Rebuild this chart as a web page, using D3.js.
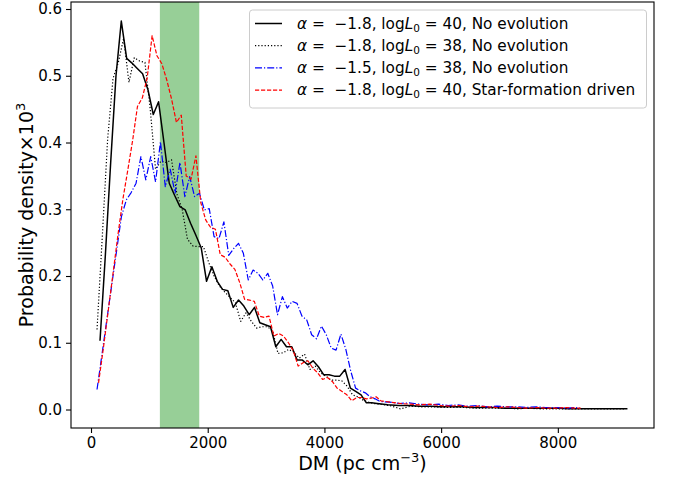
<!DOCTYPE html>
<html>
<head>
<meta charset="utf-8">
<script src="https://cdn.jsdelivr.net/npm/d3@7"></script>
<style>
  html, body { margin: 0; padding: 0; background: #fff; }
  svg { display: block; }
  text { font-family: "DejaVu Sans", sans-serif; white-space: pre; }
</style>
</head>
<body>
<svg id="chart" width="673" height="478"></svg>
<script>
// ---------------- data ----------------
const dmSolid = [154, 245, 337, 428, 519, 611, 702, 793, 884, 976, 1067, 1158, 1250, 1341, 1432, 1524, 1615, 1706, 1797, 1889,
  1980, 2071, 2163, 2254, 2345, 2437, 2528, 2619, 2710, 2802, 2893, 2984, 3076, 3167, 3258, 3350, 3441, 3532, 3623, 3715,
  3806, 3897, 3989, 4080, 4171, 4263, 4354, 4445, 4536, 4628, 4719, 4810, 4902,
  5084, 5267, 5449, 5632, 5815, 5997, 6180, 6362, 6545, 6728, 6910, 7093, 7275, 7458, 7641, 7823, 8006, 8188, 8371, 8554,
  8736, 8919, 9101, 9193];
const pdSolid = [0.103, 0.230, 0.370, 0.500, 0.582, 0.526, 0.519, 0.511, 0.503, 0.479,
  0.442, 0.461, 0.400, 0.339, 0.321, 0.304, 0.299, 0.279, 0.261, 0.242,
  0.192, 0.214, 0.192, 0.180, 0.178, 0.153, 0.164, 0.155, 0.142, 0.153,
  0.130, 0.127, 0.124, 0.094, 0.105, 0.094, 0.094, 0.074, 0.074, 0.067,
  0.073, 0.064, 0.052, 0.052, 0.050, 0.050, 0.060, 0.032, 0.027, 0.022,
  0.010, 0.010, 0.009,
  0.007, 0.006, 0.006, 0.005, 0.005, 0.004, 0.004, 0.004, 0.003, 0.003, 0.003, 0.002,
  0.002, 0.002, 0.002, 0.002, 0.002, 0.001, 0.001, 0.001, 0.001, 0.001, 0.001, 0.001];

const dmDotted = [103, 194, 285, 377, 468, 559, 650, 741, 833, 924, 1015, 1106, 1197, 1289, 1380, 1471, 1562, 1653, 1745, 1836,
  1927, 2018, 2109, 2201, 2292, 2383, 2474, 2565, 2657, 2748, 2839, 2930, 3021, 3113, 3204, 3295, 3386, 3477, 3569, 3660,
  3751, 3842, 3933, 4025, 4116, 4207, 4298, 4389, 4481, 4572, 4663, 4754, 4845,
  4937, 5119, 5302, 5484, 5666, 5849, 6031, 6214, 6396, 6578, 6761, 6943, 7126, 7308, 7490, 7673, 7855, 8038, 8220, 8402,
  8585, 8767, 8950, 9132];
const pdDotted = [0.120, 0.260, 0.405, 0.496, 0.520, 0.556, 0.490, 0.527, 0.522, 0.520,
  0.450, 0.360, 0.372, 0.370, 0.374, 0.323, 0.300, 0.255, 0.245, 0.244,
  0.244, 0.220, 0.200, 0.185, 0.176, 0.168, 0.160, 0.132, 0.145, 0.132,
  0.122, 0.124, 0.124, 0.118, 0.084, 0.085, 0.090, 0.086, 0.077, 0.083,
  0.060, 0.065, 0.055, 0.050, 0.044, 0.044, 0.043, 0.035, 0.022, 0.019,
  0.014, 0.011, 0.009,
  0.008, 0.006, 0.001, 0.005, 0.004, 0.004, 0.003, 0.003, 0.003, 0.002, 0.002, 0.002,
  0.002, 0.001, 0.002, 0.001, 0.001, 0.001, 0.001, 0.001, 0.001, 0.001, 0.001, 0.001];

const dmBlue = [103, 187, 270, 354, 437, 521, 605, 688, 772, 855, 939, 1023, 1106, 1190, 1273, 1357, 1441, 1524, 1608, 1691,
  1775, 1859, 1942, 2026, 2109, 2193, 2277, 2360, 2444, 2527, 2611, 2695, 2778, 2862, 2945, 3029, 3113, 3196, 3280, 3363,
  3447, 3531, 3614, 3698, 3781, 3865, 3949, 4032, 4116, 4199, 4283, 4367, 4450, 4534, 4617, 4701, 4785, 4868, 4952,
  5119, 5286, 5453, 5621, 5788, 5955, 6122, 6289, 6456, 6624, 6791, 6958, 7125, 7292, 7459, 7626, 7794, 7961, 8128, 8295, 8379];
const pdBlue = [0.030, 0.082, 0.134, 0.186, 0.237, 0.289, 0.314, 0.325, 0.339, 0.379,
  0.344, 0.379, 0.341, 0.401, 0.334, 0.360, 0.324, 0.370, 0.319, 0.349,
  0.319, 0.324, 0.299, 0.301, 0.259, 0.256, 0.281, 0.231, 0.241, 0.249,
  0.234, 0.194, 0.209, 0.204, 0.194, 0.204, 0.185, 0.142, 0.169, 0.152,
  0.162, 0.159, 0.140, 0.134, 0.112, 0.106, 0.125, 0.112, 0.092, 0.089,
  0.113, 0.090, 0.058, 0.032, 0.028, 0.025, 0.019, 0.016, 0.012,
  0.011, 0.009, 0.010, 0.008, 0.007, 0.008, 0.006, 0.007, 0.005, 0.006, 0.004,
  0.005, 0.004, 0.004, 0.003, 0.004, 0.003, 0.003, 0.002, 0.003, 0.002];

const dmRed = [129, 212, 295, 379, 462, 546, 629, 713, 796, 880, 963, 1047, 1130, 1214, 1297, 1381, 1464, 1547, 1631, 1714,
  1798, 1881, 1965, 2048, 2132, 2215, 2299, 2382, 2465, 2549, 2632, 2716, 2799, 2883, 2966, 3050, 3133, 3217, 3300, 3383,
  3467, 3550, 3634, 3717, 3801, 3884, 3968, 4051, 4135, 4218, 4302, 4385, 4468, 4552, 4635, 4719, 4802, 4886, 4969,
  5136, 5303, 5470, 5637, 5804, 5971, 6138, 6305, 6472, 6639, 6806, 6973, 7140, 7306, 7473, 7640, 7807, 7974, 8141, 8308, 8391];
const pdRed = [0.040, 0.092, 0.148, 0.205, 0.262, 0.315, 0.358, 0.403, 0.454, 0.467,
  0.497, 0.560, 0.530, 0.518, 0.494, 0.465, 0.430, 0.441, 0.350, 0.345,
  0.380, 0.310, 0.284, 0.273, 0.270, 0.232, 0.228, 0.218, 0.210, 0.190,
  0.165, 0.164, 0.162, 0.140, 0.138, 0.140, 0.110, 0.114, 0.110, 0.100,
  0.088, 0.065, 0.070, 0.073, 0.062, 0.055, 0.045, 0.048, 0.042, 0.032,
  0.027, 0.022, 0.013, 0.018, 0.018, 0.016, 0.017, 0.019, 0.013,
  0.011, 0.009, 0.008, 0.007, 0.008, 0.006, 0.005, 0.006, 0.004, 0.005, 0.004,
  0.003, 0.004, 0.003, 0.002, 0.003, 0.002, 0.002, 0.003, 0.002, 0.002];

const bandRange = [1180, 1855];
const xTicks = [0, 2000, 4000, 6000, 8000];
const yTicks = [0.0, 0.1, 0.2, 0.3, 0.4, 0.5, 0.6];
const alphas = ["−1.8", "−1.8", "−1.5", "−1.8"];
const logL0s = ["40", "38", "38", "40"];
const models = ["No evolution", "No evolution", "No evolution", "Star-formation driven"];

// ---------------- layout ----------------
const svg = d3.select("#chart");
const L = 71, R = 654, T = 2, B = 428;
const x = d3.scaleLinear().domain([-343, 9648]).range([L, R]);
const y = d3.scaleLinear().domain([-0.0277, 0.6105]).range([B, T]);

svg.append("defs").append("clipPath").attr("id", "clip")
  .append("rect").attr("x", L).attr("y", T).attr("width", R - L).attr("height", B - T);

// band
svg.append("rect")
  .attr("x", x(bandRange[0])).attr("y", T)
  .attr("width", x(bandRange[1]) - x(bandRange[0])).attr("height", B - T)
  .attr("fill", "#97cf97");

const series = [
  { dm: dmSolid, pd: pdSolid, color: "#000000", dash: null, w: 1.5 },
  { dm: dmDotted, pd: pdDotted, color: "#000000", dash: "1.2,2", w: 1.2 },
  { dm: dmBlue, pd: pdBlue, color: "#0000ff", dash: "7,2,1.2,2", w: 1.2 },
  { dm: dmRed, pd: pdRed, color: "#ff0000", dash: "4.2,1.8", w: 1.2 }
];

const line = d3.line().x(d => x(d[0])).y(d => y(d[1]));
const g = svg.append("g").attr("clip-path", "url(#clip)");
series.forEach(s => {
  g.append("path")
    .datum(s.dm.map((v, i) => [v, s.pd[i]]))
    .attr("d", line)
    .attr("fill", "none")
    .attr("stroke", s.color)
    .attr("stroke-width", s.w)
    .attr("stroke-dasharray", s.dash)
    .attr("stroke-linejoin", "round");
});

// frame
svg.append("rect").attr("x", L).attr("y", T).attr("width", R - L).attr("height", B - T)
  .attr("fill", "none").attr("stroke", "#000").attr("stroke-width", 1.1);

// axes
const xAxis = svg.append("g").attr("transform", `translate(0,${B})`)
  .call(d3.axisBottom(x).tickValues(xTicks).tickFormat(d3.format("d")).tickSize(5).tickPadding(4));
const yAxis = svg.append("g").attr("transform", `translate(${L},0)`)
  .call(d3.axisLeft(y).tickValues(yTicks).tickFormat(d3.format(".1f")).tickSize(5).tickPadding(4));
[xAxis, yAxis].forEach(a => {
  a.select(".domain").remove();
  a.selectAll("line").attr("stroke", "#000").attr("stroke-width", 1.1);
  a.selectAll("text").attr("font-family", "DejaVu Sans").attr("font-size", 15).attr("fill", "#000");
});

// axis labels
const xl = svg.append("text").attr("x", (L + R) / 2).attr("y", 470)
  .attr("text-anchor", "middle").attr("font-size", 19);
xl.append("tspan").text("DM (pc cm");
xl.append("tspan").attr("font-size", 13).attr("dy", -8).text("−3");
xl.append("tspan").attr("dy", 8).text(")");

const yl = svg.append("text")
  .attr("transform", `translate(33,${(T + B) / 2}) rotate(-90)`)
  .attr("text-anchor", "middle").attr("font-size", 19);
yl.append("tspan").text("Probability density×10");
yl.append("tspan").attr("font-size", 13).attr("dy", -8).text("3");

// legend
const lg = svg.append("g");
lg.append("rect").attr("x", 249.5).attr("y", 10).attr("width", 397).attr("height", 98)
  .attr("rx", 3).attr("fill", "#fff").attr("fill-opacity", 0.8)
  .attr("stroke", "#cccccc").attr("stroke-width", 1);
series.forEach((s, i) => {
  const cy = 23.5 + i * 22.2;
  lg.append("line").attr("x1", 255).attr("x2", 282).attr("y1", cy).attr("y2", cy)
    .attr("stroke", s.color).attr("stroke-width", s.w).attr("stroke-dasharray", s.dash);
  const t = lg.append("text").attr("x", 297).attr("y", cy + 5).attr("font-size", 15.3);
  t.append("tspan").attr("font-style", "italic").text("α");
  t.append("tspan").text(" =  " + alphas[i] + ", log");
  t.append("tspan").attr("font-style", "italic").text("L");
  t.append("tspan").attr("font-size", 10.5).attr("dy", 3).text("0");
  t.append("tspan").attr("dy", -3).text(" = " + logL0s[i] + ", " + models[i]);
});
</script>
</body>
</html>
